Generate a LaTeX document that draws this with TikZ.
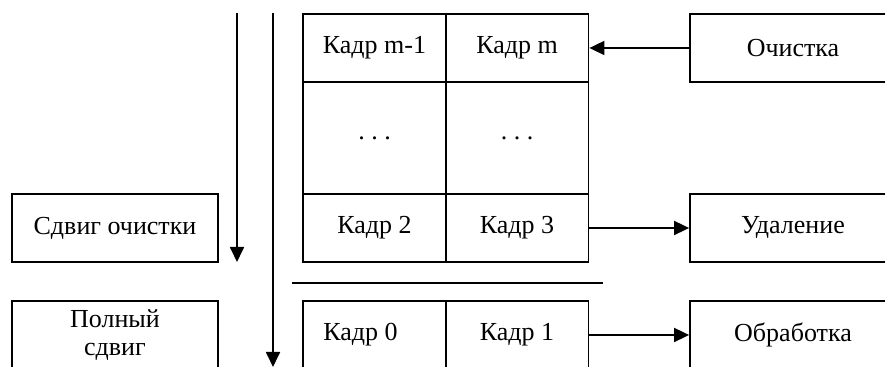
\documentclass[tikz,border=0pt]{standalone}
\usepackage{fontspec}
\setmainfont{Liberation Serif}
\usepackage{tikz}
\usetikzlibrary{arrows.meta,positioning}

\begin{document}
\begin{tikzpicture}[x=0.5pt,y=-0.5pt,line width=0.9pt,
  txt/.style={font=\fontsize{13pt}{14pt}\selectfont},
  cell/.style={draw,txt,inner sep=0pt,minimum width=71.5pt},
  box/.style={draw,txt,inner sep=0pt,minimum width=103pt,minimum height=34pt,align=center},
  arr/.style={-{Triangle[length=7.5pt,width=7pt]}}]
\useasboundingbox (0,0) rectangle (885,367);
\clip (0,0) rectangle (885,367);
% frame buffer cells
\foreach \n/\x/\y/\h/\t in {m1/374.5/48/34pt/{Кадр m-1},m/517/48/34pt/{Кадр m},
  d1/374.5/138/56pt/{.\ .\ .},d2/517/138/56pt/{.\ .\ .},
  k2/374.5/228/34pt/{Кадр 2},k3/517/228/34pt/{Кадр 3},
  k0/374.5/335/34pt/{Кадр 0\kern14pt},k1/517/335/34pt/{Кадр 1}}{
  \node[cell,minimum height=\h] (\n) at (\x,\y) {\t};
}
\draw (292,283) -- (603,283);
% side blocks
\node[box] (clr) at (793,48) {Очистка};
\node[box] (del) at (793,228) {Удаление};
\node[box] (proc) at (793,335) {Обработка};
\node[box] (shclr) at (115,228) {Сдвиг очистки};
\node[box] (full) at (115,335) {Полный\\сдвиг};
\draw[arr] (clr.west) -- (m.east);
\draw[arr] (k3.east) -- (del.west);
\draw[arr] (k1.east) -- (proc.west);
% shifts
\coordinate (s1) at (237,13);
\coordinate (e1) at (237,262);
\coordinate (s2) at (273,13);
\coordinate (e2) at (273,367);
\draw[arr] (s1) -- (e1);
\draw[arr] (s2) -- (e2);
\end{tikzpicture}
\end{document}
